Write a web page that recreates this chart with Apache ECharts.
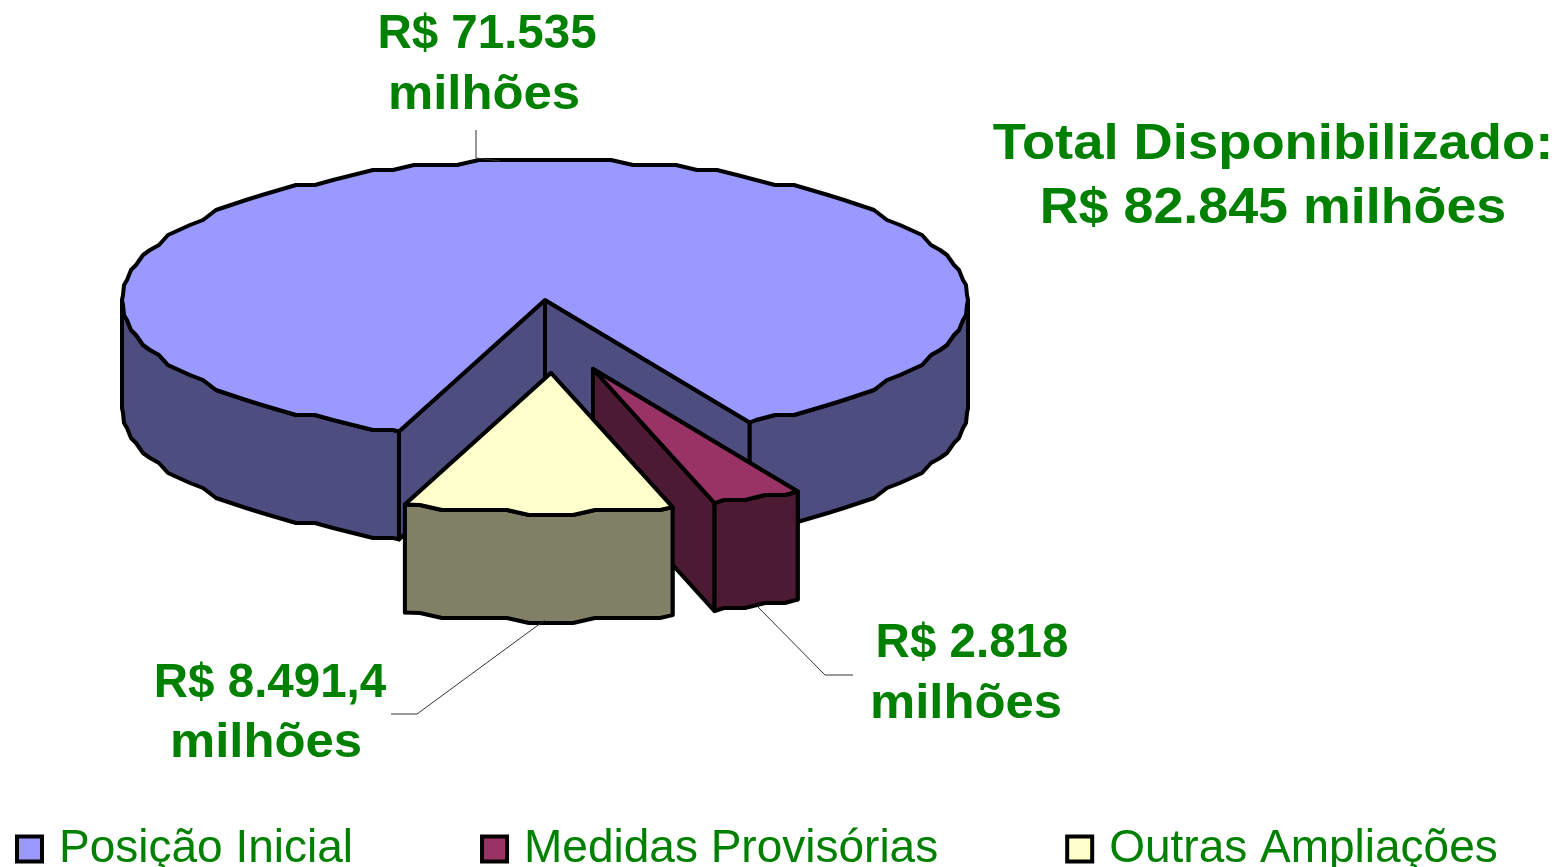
<!DOCTYPE html>
<html>
<head>
<meta charset="utf-8">
<title>Total Disponibilizado</title>
<script src="https://cdn.jsdelivr.net/npm/echarts@6/dist/echarts.min.js"></script>
<style>
  html, body { margin: 0; padding: 0; background: #fff; }
  #chart { width: 1563px; height: 867px; }
</style>
</head>
<body>
<div id="chart"></div>
<script>
const sliceNames = ["Posição Inicial", "Medidas Provisórias", "Outras Ampliações"];
const sliceValues = [71535, 2818, 8491.4];
const sliceLabels = [["R$ 71.535", "milhões"], ["R$ 2.818", "milhões"], ["R$ 8.491,4", "milhões"]];
const totalLabels = ["Total Disponibilizado:", "R$ 82.845 milhões"];

// aparencia de cada fatia (topo / lateral / deslocamento da fatia destacada)
const topColors = ["#9999ff", "#993366", "#ffffcc"];
const sideColors = ["#4d4d80", "#4d1a33", "#808066"];
const explode = [[0, 0], [48, 69], [6, 73]];

const CX = 545, CY = 300, RX = 423, RY = 140, DEPTH = 108;
const START_ANGLE = 200.2;
const GREEN = "#008000";

const total = sliceValues.reduce((a, b) => a + b, 0);
let acc = START_ANGLE;
const ranges = sliceValues.map((v) => {
  const from = acc;
  acc += (v / total) * 360;
  return [from, acc];
});

function rim(deg, dx, dy) {
  const t = (deg * Math.PI) / 180;
  return [CX + dx + RX * Math.sin(t), CY + dy - RY * Math.cos(t)];
}

// borda "serrilhada" como no grafico original: y em degraus de 5px
function arcPoints(from, to, dx, dy) {
  const pts = [rim(from, dx, dy)];
  for (let a = Math.ceil(from / 3) * 3; a < to; a += 3) {
    const p = rim(a, dx, dy);
    pts.push([Math.round(p[0]), Math.round(p[1] / 5) * 5]);
  }
  pts.push(rim(to, dx, dy));
  return pts;
}

// trechos da borda externa voltados para a frente (90..270 graus)
function frontArcs(from, to) {
  const out = [];
  for (let k = -1; k <= 1; k++) {
    const a = Math.max(from, 90 + 360 * k);
    const b = Math.min(to, 270 + 360 * k);
    if (a < b) out.push([a, b]);
  }
  return out;
}

function poly(points, fill, z2) {
  return {
    type: "polygon",
    shape: { points },
    z2,
    style: { fill, stroke: "#000", lineWidth: 4, lineJoin: "round" },
  };
}

function renderSlice(i) {
  return function () {
    const [from, to] = ranges[i];
    const [dx, dy] = explode[i];
    const apex = [CX + dx, CY + dy];
    const apexLow = [apex[0], apex[1] + DEPTH];
    const children = [];

    // paredes do corte
    [from, to].forEach((deg) => {
      const p = rim(deg, dx, dy);
      children.push(poly([apex, p, [p[0], p[1] + DEPTH], apexLow], sideColors[i], 1));
    });

    // lateral externa
    frontArcs(from, to).forEach(([a, b]) => {
      const upper = arcPoints(a, b, dx, dy);
      const lower = upper.map((p) => [p[0], p[1] + DEPTH]).reverse();
      children.push(poly(upper.concat(lower), sideColors[i], 2));
    });

    // topo
    children.push(poly([apex].concat(arcPoints(from, to, dx, dy)), topColors[i], 3));

    return { type: "group", children };
  };
}

function textEl(text, x, y, fontSize, scaleX) {
  return {
    type: "text",
    x,
    y,
    scaleX: scaleX || 1,
    style: {
      text,
      fill: GREEN,
      font: "bold " + fontSize + "px 'Liberation Sans', Arial, sans-serif",
      textAlign: "center",
      textVerticalAlign: "middle",
    },
  };
}

function leader(points) {
  return {
    type: "polyline",
    shape: { points },
    z: 5,
    style: { stroke: "#333", lineWidth: 1, fill: null },
  };
}

const chart = echarts.init(document.getElementById("chart"));
chart.setOption({
  backgroundColor: "#fff",
  animation: false,
  legend: {
    data: sliceNames,
    left: 10,
    top: 821,
    icon: "rect",
    itemWidth: 25,
    itemHeight: 25,
    itemGap: 127,
    selectedMode: false,
    itemStyle: { borderColor: "#000", borderWidth: 4 },
    textStyle: {
      color: GREEN,
      fontFamily: "'Liberation Sans', Arial, sans-serif",
      fontSize: 46,
      padding: [0, 0, 0, 12],
    },
  },
  series: sliceNames.map((name, i) => ({
    type: "custom",
    name,
    coordinateSystem: "none",
    silent: true,
    z: 2 + i,
    itemStyle: { color: topColors[i] },
    data: [[sliceValues[i]]],
    renderItem: renderSlice(i),
  })),
  graphic: [
    leader([[476, 130], [476, 158], [500, 161]]),
    leader([[391, 714], [417, 714], [545, 620]]),
    leader([[758, 607], [825, 675], [853, 675]]),
    textEl(sliceLabels[0][0], 487, 35, 47.5),
    textEl(sliceLabels[0][1], 484, 96, 47.5, 1.07),
    textEl(sliceLabels[1][0], 972, 644, 47.5),
    textEl(sliceLabels[1][1], 966, 705, 47.5, 1.07),
    textEl(sliceLabels[2][0], 270, 684, 47.5),
    textEl(sliceLabels[2][1], 266, 744, 47.5, 1.07),
    textEl(totalLabels[0], 1273, 145, 50, 1.087),
    textEl(totalLabels[1], 1273, 209, 50, 1.076),
  ],
});
</script>
</body>
</html>
